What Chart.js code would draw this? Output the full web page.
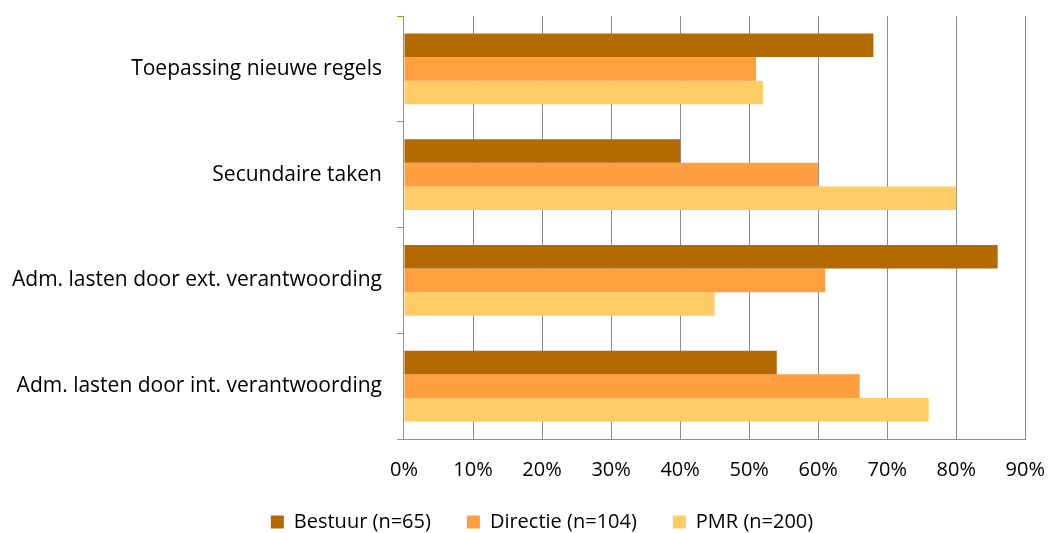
<!DOCTYPE html>
<html>
<head>
<meta charset="utf-8">
<script src="https://cdn.jsdelivr.net/npm/chart.js@4/dist/chart.umd.min.js"></script>
<style>
  html, body { margin: 0; padding: 0; background: #fff; }
  #wrap { width: 1051px; height: 533px; }
</style>
</head>
<body>
<div id="wrap"><canvas id="chart"></canvas></div>
<script>
// Categorieën en reeksen (waarden in %)
var categories = [
    'Toepassing nieuwe regels',
    'Secundaire taken',
    'Adm. lasten door ext. verantwoording',
    'Adm. lasten door int. verantwoording'
];
var bestuur = [68, 40, 86, 54];
var directie = [51, 60, 61, 66];
var pmr = [52, 80, 45, 76];
var seriesLabels = ['Bestuur (n=65)', 'Directie (n=104)', 'PMR (n=200)'];
var xTicks = [0, 10, 20, 30, 40, 50, 60, 70, 80, 90];

var fontFam = "'Open Sans', 'Noto Sans', sans-serif";

// legenda iets naar rechts, zoals in het origineel
var legendShift = {
    id: 'legendShift',
    afterLayout: function(chart) {
        chart.legend.left += 18;
        chart.legend.right += 18;
    }
};

var ctx = document.getElementById('chart').getContext('2d');
var chart = new Chart(ctx, {
    type: 'bar',
    data: {
        labels: categories,
        datasets: [{
            label: seriesLabels[0],
            data: bestuur,
            backgroundColor: '#B36A00'
        }, {
            label: seriesLabels[1],
            data: directie,
            backgroundColor: '#FF9F40'
        }, {
            label: seriesLabels[2],
            data: pmr,
            backgroundColor: '#FFCC66'
        }]
    },
    plugins: [legendShift],
    options: {
        indexAxis: 'y',
        responsive: true,
        maintainAspectRatio: false,
        animation: false,
        layout: { padding: { top: 0, right: 0, left: -3, bottom: -9 } },
        datasets: {
            bar: { categoryPercentage: 0.67, barPercentage: 1.0 }
        },
        scales: {
            x: {
                min: xTicks[0],
                max: xTicks[xTicks.length - 1],
                afterBuildTicks: function(axis) {
                    axis.ticks = xTicks.map(function(v) { return { value: v }; });
                },
                // as kleiner zodat de legenda dicht onder de labels staat
                afterFit: function(axis) { axis.height = 37; },
                grid: {
                    color: function(c) {
                        return c.tick && c.tick.value === 0 ? 'rgba(0,0,0,0)' : '#8C8C8C';
                    },
                    lineWidth: 1,
                    drawTicks: false
                },
                border: { color: '#8C8C8C' },
                ticks: {
                    color: '#000',
                    padding: 6,
                    font: { family: fontFam, size: 20, lineHeight: 2.5 },
                    callback: function(v) { return v + '%'; }
                }
            },
            y: {
                grid: {
                    drawOnChartArea: false,
                    color: '#D08A1E',
                    tickLength: 7,
                    offset: true
                },
                border: { color: '#D08A1E', width: 1 },
                ticks: {
                    color: '#000',
                    padding: 15,
                    font: { family: fontFam, size: 21, lineHeight: 0.1 }
                }
            }
        },
        plugins: {
            legend: {
                position: 'bottom',
                labels: {
                    boxWidth: 13,
                    boxHeight: 13,
                    padding: 36,
                    color: '#000',
                    font: { family: fontFam, size: 20 }
                }
            },
            tooltip: { enabled: false }
        }
    }
});
</script>
</body>
</html>
